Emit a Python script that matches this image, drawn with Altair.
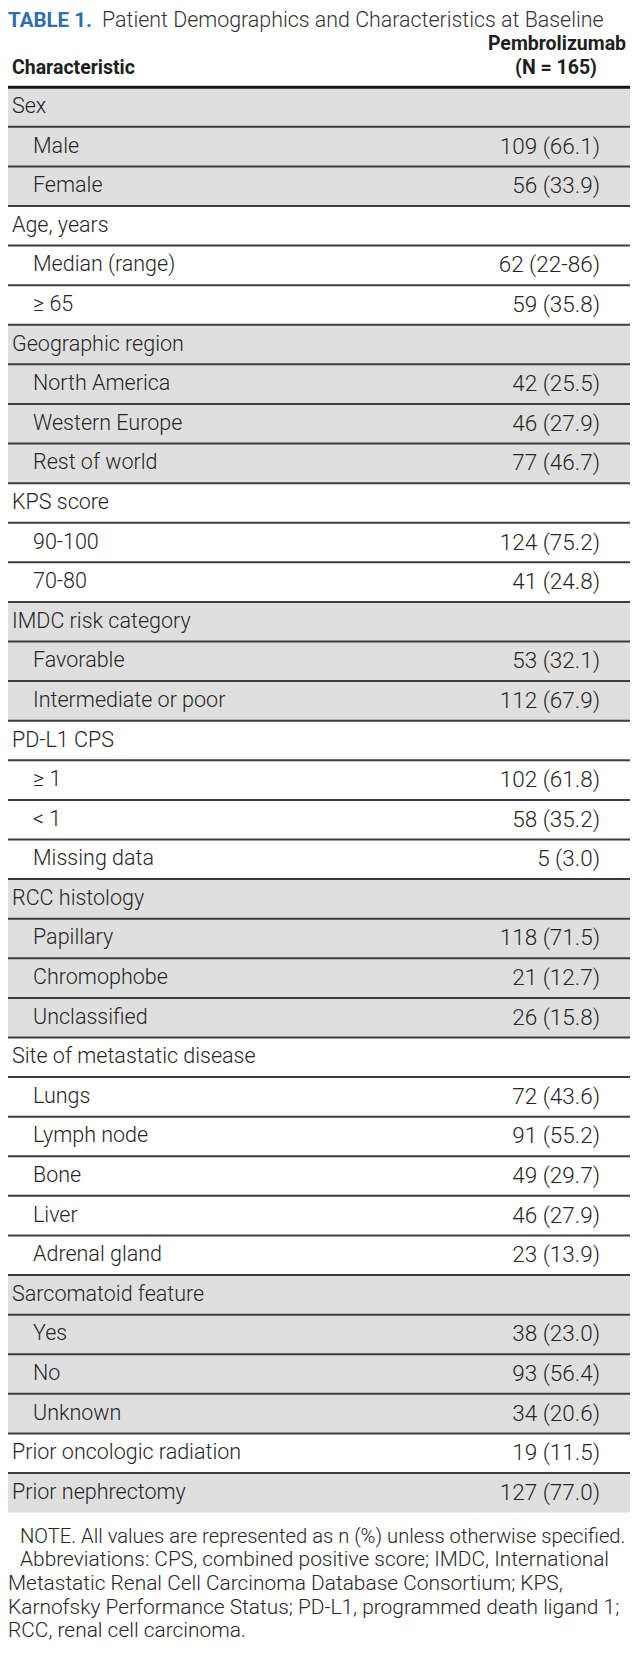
import altair as alt
import pandas as pd

# ---------------- data ----------------
title_bold = "TABLE 1."
title_rest = "Patient Demographics and Characteristics at Baseline"
header_left = "Characteristic"
header_right = ["Pembrolizumab", "(N = 165)"]

row_labels = [
    "Sex", "Male", "Female",
    "Age, years", "Median (range)", "\u2265 65",
    "Geographic region", "North America", "Western Europe", "Rest of world",
    "KPS score", "90-100", "70-80",
    "IMDC risk category", "Favorable", "Intermediate or poor",
    "PD-L1 CPS", "\u2265 1", "< 1", "Missing data",
    "RCC histology", "Papillary", "Chromophobe", "Unclassified",
    "Site of metastatic disease", "Lungs", "Lymph node", "Bone", "Liver", "Adrenal gland",
    "Sarcomatoid feature", "Yes", "No", "Unknown",
    "Prior oncologic radiation",
    "Prior nephrectomy",
]
row_values = [
    "", "109 (66.1)", "56 (33.9)",
    "", "62 (22-86)", "59 (35.8)",
    "", "42 (25.5)", "46 (27.9)", "77 (46.7)",
    "", "124 (75.2)", "41 (24.8)",
    "", "53 (32.1)", "112 (67.9)",
    "", "102 (61.8)", "58 (35.2)", "5 (3.0)",
    "", "118 (71.5)", "21 (12.7)", "26 (15.8)",
    "", "72 (43.6)", "91 (55.2)", "49 (29.7)", "46 (27.9)", "23 (13.9)",
    "", "38 (23.0)", "93 (56.4)", "34 (20.6)",
    "19 (11.5)",
    "127 (77.0)",
]
row_is_sub = [
    False, True, True,
    False, True, True,
    False, True, True, True,
    False, True, True,
    False, True, True,
    False, True, True, True,
    False, True, True, True,
    False, True, True, True, True, True,
    False, True, True, True,
    False,
    False,
]
note_first = "NOTE. All values are represented as n (%) unless otherwise specified."
note_lines = [
    "Abbreviations: CPS, combined positive score; IMDC, International",
    "Metastatic Renal Cell Carcinoma Database Consortium; KPS,",
    "Karnofsky Performance Status; PD-L1, programmed death ligand 1;",
    "RCC, renal cell carcinoma.",
]

# ---------------- layout ----------------
W, H = 622, 1663
FONT = "Roboto, 'Liberation Sans', sans-serif"
GREY = "#e0dfe0"
TEXT = "#262626"
BLUE = "#2f6dab"

n = len(row_labels)
group, g = [], -1
for s in row_is_sub:
    if not s:
        g += 1
    group.append(g)

rows = pd.DataFrame({
    "label": row_labels,
    "value": row_values,
    "row": list(range(n)),
    "shade": ["grey" if gi % 2 == 0 else "white" for gi in group],
    "x_label": [25 if s else 4 for s in row_is_sub],
})
rows["y_top"] = rows["row"]
rows["y_bot"] = rows["row"] + 1
rows["y_mid"] = rows["row"] + 0.5
rows["x_value"] = 592

yscale = alt.Scale(domain=[-2, 40], reverse=True, nice=False, zero=False)
xscale = alt.Scale(domain=[0, W], nice=False, zero=False)


def Y(f):
    return alt.Y(f, scale=yscale, axis=None)


def X(f):
    return alt.X(f, scale=xscale, axis=None)


bg = alt.Chart(rows).mark_rect().encode(
    y=Y("y_top:Q"), y2="y_bot:Q",
    x=alt.value(0), x2=alt.value(W),
    color=alt.Color("shade:N", scale=alt.Scale(domain=["grey", "white"], range=[GREY, "#ffffff"]), legend=None),
)

sep = alt.Chart(rows[rows["row"] >= 1]).mark_rule(strokeWidth=2, color="#3d3d3d").encode(
    y=Y("y_top:Q"), x=alt.value(0), x2=alt.value(W),
)

top_rule = alt.Chart(pd.DataFrame({"y": [0]})).mark_rule(strokeWidth=3, color="#151515").encode(
    y=Y("y:Q"), x=alt.value(0), x2=alt.value(W),
)

labels = alt.Chart(rows).mark_text(align="left", baseline="middle", font=FONT, fontSize=21.5, fontWeight=300, color=TEXT).encode(
    x=X("x_label:Q"), y=Y("y_mid:Q"), text="label:N",
)

values = alt.Chart(rows[rows["value"] != ""]).mark_text(align="right", baseline="middle", font=FONT, fontSize=22.5, fontWeight=300, color=TEXT).encode(
    x=X("x_value:Q"), y=Y("y_mid:Q"), text="value:N",
)

t1 = alt.Chart(pd.DataFrame({"t": [title_bold], "x": [0], "y": [-1.672]})).mark_text(
    align="left", baseline="middle", font=FONT, fontSize=20.5, fontWeight="bold", color=BLUE
).encode(x=X("x:Q"), y=Y("y:Q"), text="t:N")

t2 = alt.Chart(pd.DataFrame({"t": [title_rest], "x": [94], "y": [-1.672]})).mark_text(
    align="left", baseline="middle", font=FONT, fontSize=21.4, fontWeight=300, color="#333333"
).encode(x=X("x:Q"), y=Y("y:Q"), text="t:N")

h_left = alt.Chart(pd.DataFrame({"t": [header_left], "x": [4], "y": [-0.485]})).mark_text(
    align="left", baseline="middle", font=FONT, fontSize=19.5, fontWeight="bold", color="#1e1e1e"
).encode(x=X("x:Q"), y=Y("y:Q"), text="t:N")

h_right = alt.Chart(pd.DataFrame({"t": header_right, "x": [549, 548], "y": [-1.09, -0.485]})).mark_text(
    align="center", baseline="middle", font=FONT, fontSize=19.5, fontWeight="bold", color="#1e1e1e"
).encode(x=X("x:Q"), y=Y("y:Q"), text="t:N")

n1 = alt.Chart(pd.DataFrame({"t": [note_first], "x": [12], "y": [36.616]})).mark_text(
    align="left", baseline="middle", font=FONT, fontSize=20.2, fontWeight=300, color=TEXT
).encode(x=X("x:Q"), y=Y("y:Q"), text="t:N")

n2 = alt.Chart(pd.DataFrame({"t": note_lines, "x": [12, 0, 0, 0], "y": [37.209, 37.803, 38.397, 38.990]})).mark_text(
    align="left", baseline="middle", font=FONT, fontSize=20.9, fontWeight=300, color=TEXT
).encode(x=X("x:Q"), y=Y("y:Q"), text="t:N")

chart = alt.layer(bg, sep, top_rule, labels, values, t1, t2, h_left, h_right, n1, n2).properties(
    width=W, height=H, padding=0, autosize=alt.AutoSizeParams(type="none"),
).configure_view(stroke=None)

chart.save("out.html", embed_options={"renderer": "svg", "actions": False})
